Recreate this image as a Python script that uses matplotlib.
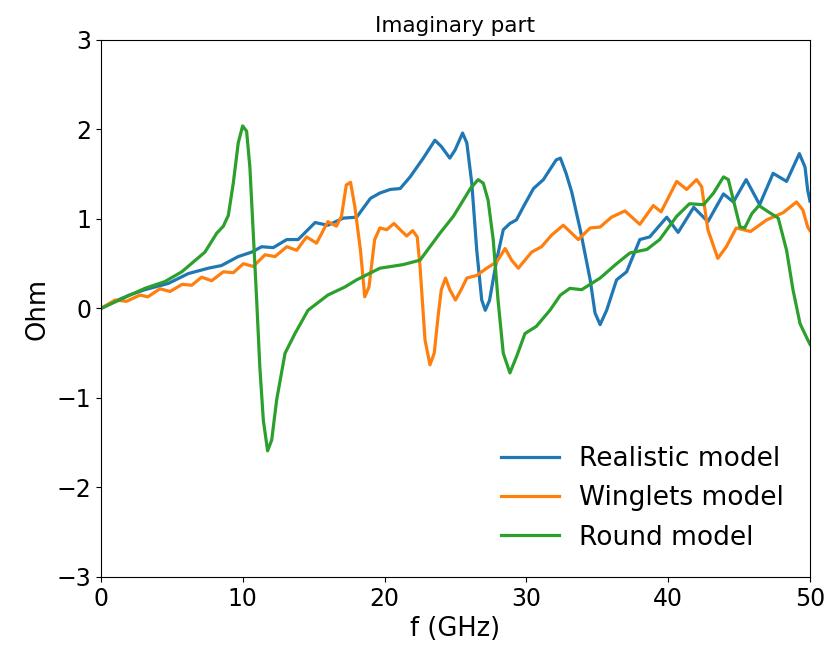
import matplotlib
matplotlib.use("Agg")
import matplotlib.pyplot as plt

# Realistic model (frequency in GHz, imaginary impedance in Ohm)
realistic_f = [0, 1.0, 2.0, 3.1, 4.75, 6.16, 7.57, 8.5, 9.68, 10.63, 11.33, 12.15, 13.1,
               13.9, 15.1, 16.0, 17.1, 18.03, 19.0, 19.67, 20.4, 21.1, 21.8, 22.73, 23.55,
               24.0, 24.6, 24.97, 25.5, 25.8, 26.15, 26.5, 26.85, 27.1, 27.4, 27.9, 28.37,
               28.84, 29.3, 29.8, 30.5, 31.2, 32.1, 32.4, 32.8, 33.2, 33.8, 34.5, 34.84,
               35.2, 35.66, 36.36, 37.07, 38.0, 38.7, 39.9, 40.7, 41.8, 42.8, 43.9, 44.6,
               45.5, 46.45, 47.4, 48.35, 49.25, 49.65, 49.84, 50.0]
realistic_im = [0, 0.08, 0.15, 0.21, 0.28, 0.39, 0.45, 0.48, 0.58, 0.63, 0.69, 0.68, 0.77,
                0.77, 0.96, 0.93, 1.01, 1.02, 1.23, 1.29, 1.33, 1.34, 1.47, 1.68, 1.88,
                1.81, 1.68, 1.77, 1.96, 1.85, 1.40, 0.65, 0.095, -0.02, 0.09, 0.54, 0.88,
                0.95, 0.99, 1.14, 1.34, 1.44, 1.66, 1.68, 1.51, 1.30, 0.88, 0.32, -0.05,
                -0.18, -0.02, 0.32, 0.41, 0.77, 0.80, 1.02, 0.85, 1.13, 0.97, 1.28, 1.19,
                1.44, 1.16, 1.51, 1.42, 1.73, 1.58, 1.32, 1.20]

# Winglets model
winglets_f = [0, 1.0, 1.8, 2.75, 3.3, 4.16, 4.87, 5.73, 6.4, 7.1, 7.8, 8.63, 9.33, 10.04,
              10.74, 11.57, 12.27, 13.1, 13.8, 14.5, 15.2, 16.0, 16.6, 16.96, 17.3, 17.6,
              17.9, 18.3, 18.6, 18.9, 19.3, 19.67, 20.15, 20.66, 21.1, 21.56, 21.98, 22.3,
              22.5, 22.85, 23.2, 23.5, 23.8, 24.0, 24.3, 24.6, 25.0, 25.4, 25.8, 26.5,
              27.2, 27.9, 28.5, 28.96, 29.43, 29.9, 30.37, 31.07, 31.78, 32.6, 33.2,
              33.66, 34.5, 35.2, 36.0, 36.95, 38.0, 38.95, 39.5, 40.6, 41.3, 42.0, 42.36,
              42.8, 43.5, 44.1, 44.8, 45.8, 46.95, 48.1, 49.05, 49.5, 49.84, 50.0]
winglets_im = [0, 0.095, 0.08, 0.15, 0.13, 0.22, 0.19, 0.27, 0.26, 0.35, 0.31, 0.41, 0.40,
               0.50, 0.47, 0.60, 0.58, 0.69, 0.65, 0.80, 0.73, 0.97, 0.92, 1.03, 1.38, 1.41,
               1.14, 0.65, 0.13, 0.24, 0.77, 0.90, 0.88, 0.95, 0.88, 0.81, 0.87, 0.80,
               0.47, -0.35, -0.63, -0.50, -0.05, 0.21, 0.34, 0.21, 0.095, 0.21, 0.34, 0.37,
               0.45, 0.52, 0.67, 0.54, 0.45, 0.54, 0.63, 0.69, 0.82, 0.93, 0.84,
               0.77, 0.90, 0.91, 1.02, 1.09, 0.94, 1.15, 1.08, 1.42, 1.33, 1.44, 1.36,
               0.88, 0.56, 0.69, 0.90, 0.86, 0.99, 1.07, 1.19, 1.10, 0.91, 0.87]

# Round model
round_f = [0, 1.5, 3.1, 4.5, 5.7, 7.33, 8.16, 8.63, 8.98, 9.33, 9.68, 9.99, 10.27, 10.5,
           10.74, 10.98, 11.2, 11.45, 11.75, 12.04, 12.39, 12.98, 13.68, 14.6, 16.0, 17.2,
           18.03, 19.67, 21.3, 22.5, 23.2, 23.9, 24.85, 25.55, 26.05, 26.6, 26.96, 27.3,
           27.66, 28.0, 28.37, 28.84, 29.3, 29.9, 30.7, 31.66, 32.4, 33.07, 33.9, 35.2,
           36.36, 37.3, 38.5, 39.4, 40.6, 41.5, 42.5, 43.2, 43.9, 44.24, 44.6, 45.07,
           45.4, 45.9, 46.4, 47.06, 47.76, 48.35, 48.8, 49.3, 49.84, 50.0]
round_im = [0, 0.11, 0.225, 0.30, 0.41, 0.63, 0.84, 0.92, 1.04, 1.40, 1.85, 2.04, 1.98,
            1.58, 0.84, 0.095, -0.65, -1.25, -1.59, -1.47, -1.02, -0.50, -0.28, -0.02,
            0.15, 0.24, 0.32, 0.45, 0.49, 0.54, 0.69, 0.84, 1.03, 1.21, 1.34, 1.44, 1.40,
            1.21, 0.77, 0.095, -0.50, -0.72, -0.54, -0.28, -0.20, -0.02, 0.15, 0.225,
            0.21, 0.34, 0.50, 0.62, 0.66, 0.77, 1.03, 1.17, 1.16, 1.29, 1.47, 1.44, 1.21,
            0.91, 0.90, 1.06, 1.15, 1.08, 1.01, 0.65, 0.21, -0.17, -0.35, -0.40]

x_ticks = [0, 10, 20, 30, 40, 50]
y_ticks = [-3, -2, -1, 0, 1, 2, 3]

fig = plt.figure(figsize=(8.25, 6.48), dpi=100)
ax = fig.add_axes([0.1224, 0.1096, 0.8594, 0.8287])

ax.plot(realistic_f, realistic_im, color="#1f77b4", lw=2.3, label="Realistic model")
ax.plot(winglets_f, winglets_im, color="#ff7f0e", lw=2.3, label="Winglets model")
ax.plot(round_f, round_im, color="#2ca02c", lw=2.3, label="Round model")

ax.set_xlim(0, 50)
ax.set_ylim(-3, 3)
ax.set_xticks(x_ticks)
ax.set_yticks(y_ticks)
ax.tick_params(labelsize=17)
ax.set_xlabel("f (GHz)", fontsize=18.5)
ax.set_ylabel("Ohm", fontsize=18.5)
ax.set_title("Imaginary part", fontsize=15.5)
ax.legend(loc="lower right", fontsize=19, frameon=False,
          handlelength=2.2, handletextpad=0.75, labelspacing=0.5,
          borderaxespad=0.6)

fig.savefig("out.png", dpi=100)
